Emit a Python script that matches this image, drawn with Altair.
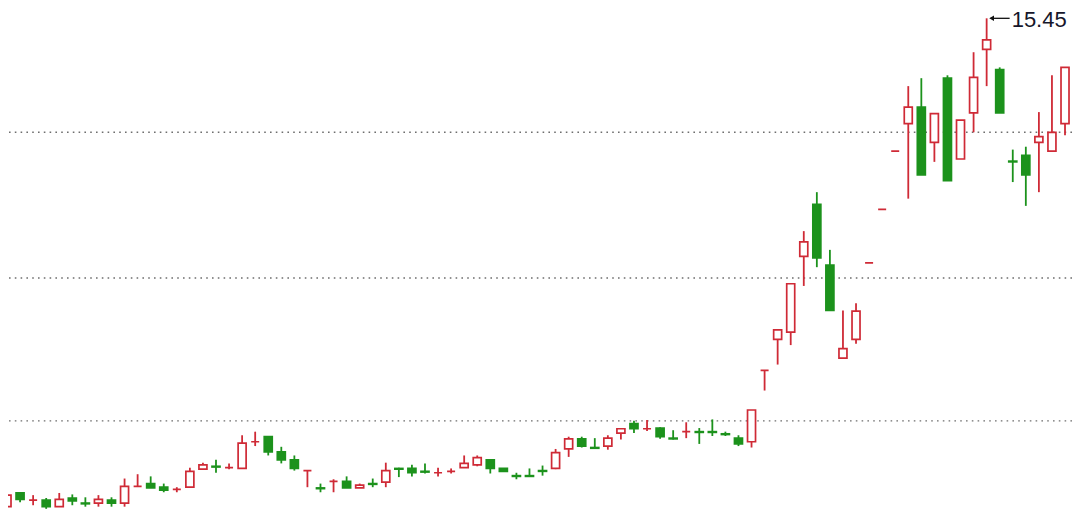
import altair as alt
import pandas as pd

opens = [8.68, 8.87, 8.77, 8.77, 8.68, 8.80, 8.73, 8.73, 8.77, 8.73,
         8.96, 9.00, 8.95, 8.92, 8.95, 9.20, 9.24, 9.22, 9.21, 9.58,
         9.65, 9.44, 9.33, 9.18, 8.94, 9.03, 9.03, 8.94, 9.00, 9.02,
         9.21, 9.21, 9.17, 9.15, 9.17, 9.22, 9.26, 9.33, 9.21, 9.11,
         9.11, 9.18, 9.21, 9.48, 9.62, 9.50, 9.52, 9.70, 9.83, 9.76,
         9.77, 9.63, 9.72, 9.72, 9.72, 9.69, 9.63, 9.58, 10.57, 11.00,
         11.10, 12.15, 12.87, 12.03, 10.74, 11.00, 12.06, 12.80, 13.61, 13.99,
         14.22, 13.73, 14.62, 13.50, 14.14, 15.02, 14.74, 13.47, 13.55, 13.73,
         13.61, 13.99]
highs = [8.87, 8.88, 8.84, 8.80, 8.87, 8.85, 8.81, 8.84, 8.81, 9.07,
         9.13, 9.10, 9.00, 8.95, 9.22, 9.29, 9.33, 9.28, 9.67, 9.72,
         9.65, 9.51, 9.39, 9.18, 9.00, 9.06, 9.10, 9.00, 9.07, 9.29,
         9.22, 9.26, 9.28, 9.22, 9.21, 9.39, 9.39, 9.33, 9.21, 9.15,
         9.21, 9.25, 9.48, 9.65, 9.65, 9.63, 9.67, 9.77, 9.87, 9.88,
         9.78, 9.74, 9.85, 9.77, 9.89, 9.72, 9.67, 10.02, 10.57, 11.13,
         11.77, 12.50, 13.04, 12.24, 11.40, 11.50, 12.06, 12.80, 13.61, 14.51,
         14.62, 14.13, 14.66, 14.04, 14.98, 15.45, 14.77, 13.63, 13.67, 14.15,
         14.66, 14.77]
lows = [8.65, 8.74, 8.70, 8.65, 8.68, 8.70, 8.68, 8.68, 8.68, 8.68,
        8.96, 8.94, 8.88, 8.88, 8.94, 9.20, 9.15, 9.20, 9.21, 9.52,
        9.39, 9.28, 9.18, 8.95, 8.88, 8.88, 8.94, 8.94, 8.95, 8.95,
        9.09, 9.10, 9.14, 9.10, 9.14, 9.22, 9.24, 9.14, 9.17, 9.06,
        9.10, 9.11, 9.20, 9.37, 9.50, 9.49, 9.47, 9.61, 9.70, 9.73,
        9.62, 9.61, 9.63, 9.55, 9.66, 9.66, 9.52, 9.50, 10.29, 10.65,
        10.92, 11.74, 12.00, 11.40, 10.74, 10.94, 12.06, 12.80, 13.61, 12.95,
        13.28, 13.46, 13.20, 13.50, 13.87, 14.51, 14.14, 13.18, 12.85, 13.04,
        13.61, 13.83]
closes = [8.84, 8.78, 8.77, 8.68, 8.78, 8.76, 8.72, 8.78, 8.73, 8.96,
          8.96, 8.94, 8.91, 8.92, 9.17, 9.26, 9.23, 9.22, 9.56, 9.58,
          9.44, 9.33, 9.21, 9.18, 8.93, 9.03, 8.94, 8.98, 8.99, 9.18,
          9.20, 9.15, 9.16, 9.15, 9.17, 9.28, 9.36, 9.21, 9.17, 9.10,
          9.10, 9.17, 9.43, 9.62, 9.52, 9.49, 9.63, 9.76, 9.76, 9.76,
          9.65, 9.62, 9.72, 9.71, 9.71, 9.68, 9.55, 10.02, 10.57, 11.13,
          11.77, 12.35, 12.13, 11.40, 10.87, 11.39, 12.06, 12.80, 13.61, 14.22,
          13.28, 14.13, 13.20, 14.04, 14.63, 15.15, 14.14, 13.46, 13.28, 13.81,
          13.87, 14.77]
grid_levels = [13.87, 11.85, 9.87]

RED = "#cf2a36"
GREEN = "#1c921c"

df = pd.DataFrame({
    "i": list(range(1, len(opens) + 1)),
    "open": opens, "high": highs, "low": lows, "close": closes,
})
df["up"] = df["close"] >= df["open"]
df["col"] = df["up"].map({True: RED, False: GREEN})
df["fillc"] = df["up"].map({True: "#ffffff", False: GREEN})
df["top"] = df[["open", "close"]].max(axis=1)
df["bot"] = df[["open", "close"]].min(axis=1)

xs = alt.Scale(domain=[1.076, 82.535], nice=False, zero=False, padding=0)
ys = alt.Scale(domain=[8.62, 15.593], nice=False, zero=False, padding=0)

base = alt.Chart(df)

grid = alt.Chart(pd.DataFrame({"lvl": grid_levels})).mark_rule(
    color="#6e6e6e", strokeWidth=1.4, strokeDash=[1.6, 4.2]
).encode(y=alt.Y("lvl:Q", scale=ys, axis=None))

wicks = base.mark_rule(strokeWidth=1.8, clip=True).encode(
    x=alt.X("i:Q", scale=xs, axis=None),
    y=alt.Y("low:Q", scale=ys, axis=None),
    y2="high:Q",
    color=alt.Color("col:N", scale=None),
)

bodies = base.mark_bar(size=8, strokeWidth=1.7, clip=True).encode(
    x=alt.X("i:Q", scale=xs, axis=None),
    y=alt.Y("bot:Q", scale=ys, axis=None),
    y2="top:Q",
    fill=alt.Fill("fillc:N", scale=None),
    stroke=alt.Stroke("col:N", scale=None),
)

top_row = df.loc[[df["high"].idxmax()]].copy()
top_row["label"] = top_row["high"].map(lambda v: f"{v:.2f}")

ann = alt.Chart(top_row)
arrow_line = ann.mark_rule(color="#111111", strokeWidth=1.3, xOffset=4, x2Offset=23).encode(
    x=alt.X("i:Q", scale=xs, axis=None), x2="i:Q",
    y=alt.Y("high:Q", scale=ys, axis=None),
)
arrow_head = ann.mark_point(shape="triangle-left", filled=True, color="#111111",
                            size=30, opacity=1, xOffset=5).encode(
    x=alt.X("i:Q", scale=xs, axis=None),
    y=alt.Y("high:Q", scale=ys, axis=None),
)
label = ann.mark_text(align="left", baseline="middle", dx=25, dy=2, fontSize=22,
                      font="Liberation Sans", color="#16162a").encode(
    x=alt.X("i:Q", scale=xs, axis=None),
    y=alt.Y("high:Q", scale=ys, axis=None),
    text="label:N",
)

chart = alt.layer(grid, wicks, bodies, arrow_line, arrow_head, label).properties(
    width=1064, height=503,
    autosize=alt.AutoSizeParams(type="none"),
    padding={"left": 0, "top": 0, "right": 0, "bottom": 0},
).configure_view(strokeWidth=0)

chart.save("out.html", embed_options={"renderer": "svg", "actions": False})
